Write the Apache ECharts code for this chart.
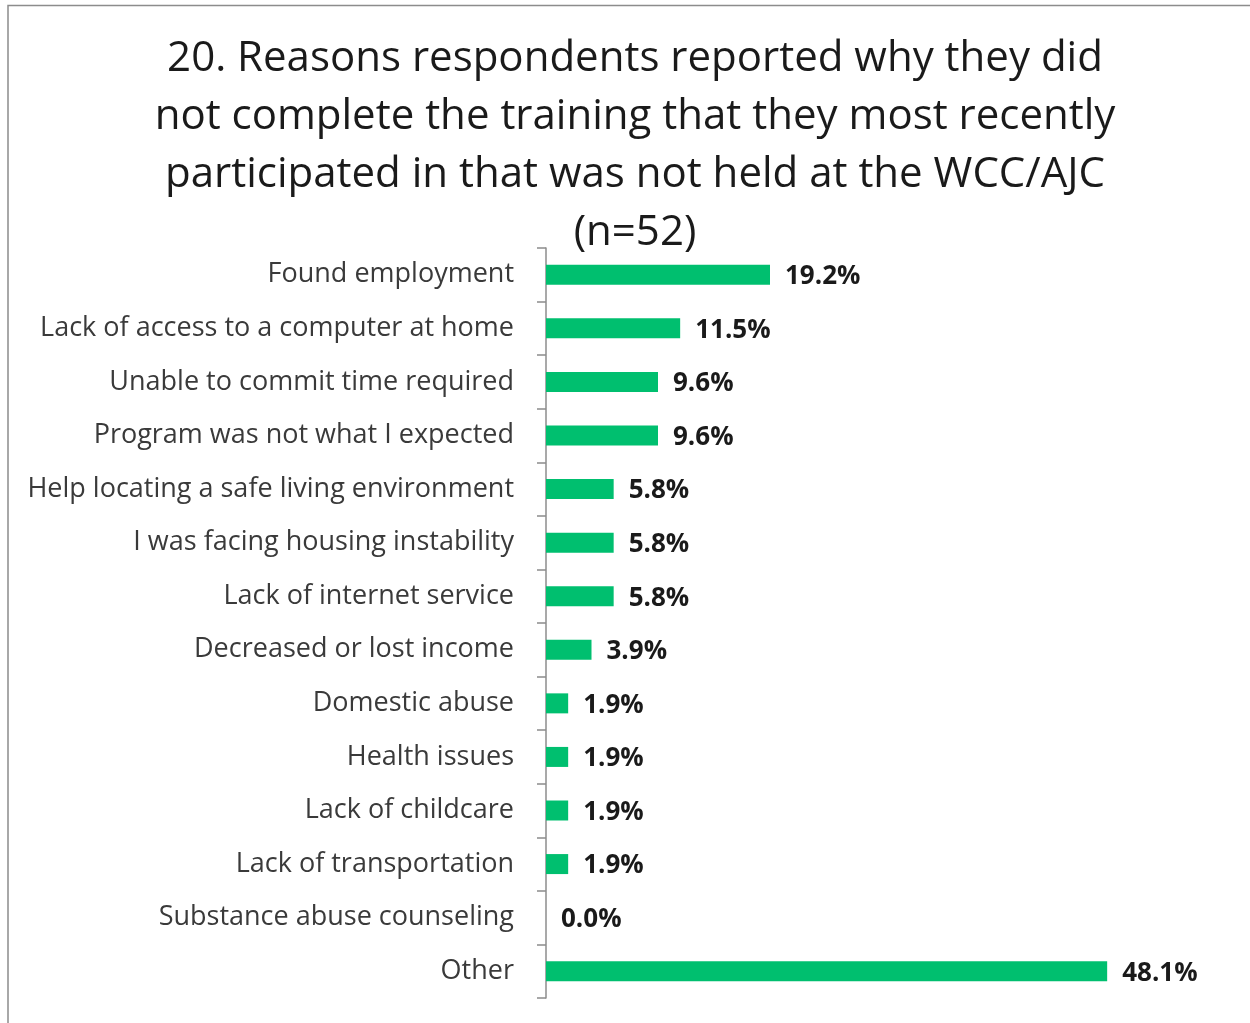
<!DOCTYPE html>
<html>
<head>
<meta charset="utf-8">
<script src="https://cdn.jsdelivr.net/npm/echarts@6/dist/echarts.min.js"></script>
<style>
  html, body { margin: 0; padding: 0; background: #fff; }
  #chart { width: 1250px; height: 1023px; }
</style>
</head>
<body>
<div id="chart"></div>
<script>
// Reasons for not completing the training, share of respondents (%)
const categories = [
  'Found employment',
  'Lack of access to a computer at home',
  'Unable to commit time required',
  'Program was not what I expected',
  'Help locating a safe living environment',
  'I was facing housing instability',
  'Lack of internet service',
  'Decreased or lost income',
  'Domestic abuse',
  'Health issues',
  'Lack of childcare',
  'Lack of transportation',
  'Substance abuse counseling',
  'Other'
];
const percentages = [19.2, 11.5, 9.6, 9.6, 5.8, 5.8, 5.8, 3.9, 1.9, 1.9, 1.9, 1.9, 0.0, 48.1];
const titleLines = [
  '20. Reasons respondents reported why they did',
  'not complete the training that they most recently',
  'participated in that was not held at the WCC/AJC',
  '(n=52)'
];

const FONT = '"Open Sans", Lato, sans-serif';
const chart = echarts.init(document.getElementById('chart'));

chart.setOption({
  backgroundColor: '#ffffff',
  animation: false,
  title: {
    text: titleLines.join('\n'),
    left: 630,
    textAlign: 'center',
    top: 25,
    textStyle: {
      fontFamily: FONT,
      fontSize: 42,
      fontWeight: 'normal',
      color: '#1a1a1a',
      lineHeight: 58
    }
  },
  graphic: [{
    type: 'rect',
    shape: { x: 8, y: 5.5, width: 1300, height: 1100 },
    style: { fill: 'none', stroke: '#8c8c8c', lineWidth: 1.5 },
    silent: true
  }],
  grid: { left: 546, right: 4, top: 248, bottom: 25 },
  xAxis: {
    type: 'value',
    min: 0,
    max: 60,
    show: false
  },
  yAxis: {
    type: 'category',
    data: categories,
    inverse: true,
    axisLine: { show: true, lineStyle: { color: '#8c8c8c', width: 1.5 } },
    axisTick: { show: true, length: 9, lineStyle: { color: '#8c8c8c', width: 1.5 } },
    axisLabel: {
      margin: 32,
      fontFamily: FONT,
      fontSize: 27,
      color: '#3a3a3a',
      padding: [4, 0, 0, 0]
    },
    splitLine: { show: false }
  },
  series: [{
    type: 'bar',
    data: percentages,
    barWidth: 20,
    itemStyle: { color: '#00bf6f' },
    label: {
      show: true,
      position: 'right',
      distance: 15,
      offset: [0, 2],
      formatter: p => p.value.toFixed(1) + '%',
      fontFamily: FONT,
      fontSize: 26,
      fontWeight: 'bold',
      color: '#1a1a1a'
    }
  }]
});
</script>
</body>
</html>
